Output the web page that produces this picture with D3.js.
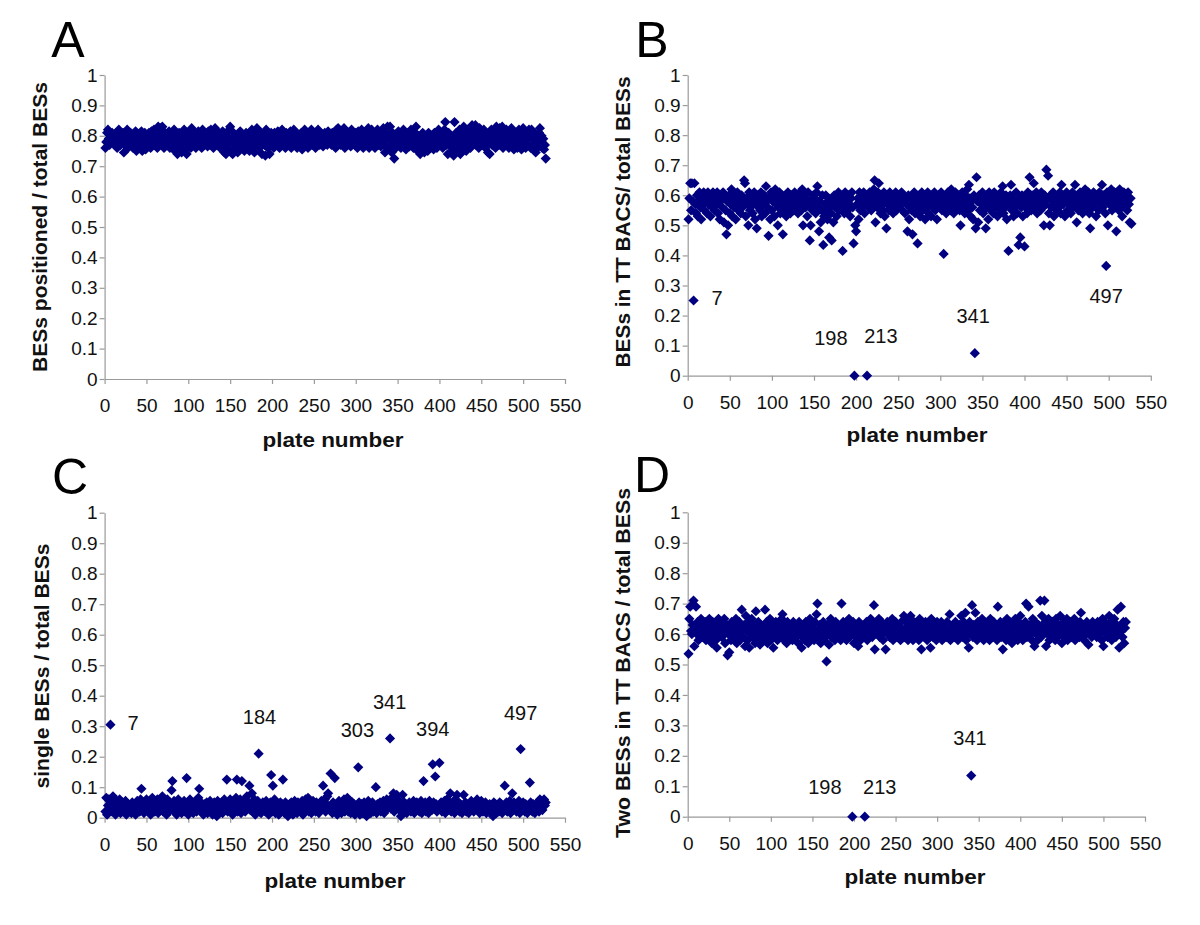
<!DOCTYPE html>
<html><head><meta charset="utf-8">
<script src="https://cdn.jsdelivr.net/npm/d3@7"></script>
<style>
body{margin:0;background:#fff}
svg{display:block}
text{font-family:"Liberation Sans",Arial,sans-serif}
</style>
</head><body>
<svg id="chart" width="1200" height="925"></svg>
<script>
// ---------- data ----------
const xTicks = [0,50,100,150,200,250,300,350,400,450,500,550];
const xTickLabels = ["0","50","100","150","200","250","300","350","400","450","500","550"];
const yTicks = [0,0.1,0.2,0.3,0.4,0.5,0.6,0.7,0.8,0.9,1];
const yTickLabels = ["0","0.1","0.2","0.3","0.4","0.5","0.6","0.7","0.8","0.9","1"];
const panelLetters = ["A","B","C","D"];
const yTitles = ["BESs positioned / total BESs","BESs in TT BACS/ total BESs","single BESs / total BESs","Two BESs in TT BACS / total BESs"];
const xTitle = "plate number";
const firstPlate = 1;

// A: BESs positioned / total BESs, plates 1..527
const ratioPositioned = [
.76,.78,.81,.82,.79,.77,.80,.78,.81,.79,
.80,.77,.79,.81,.76,.78,.82,.80,.77,.79,
.78,.81,.745,.77,.80,.79,.82,.76,.78,.80,
.81,.77,.79,.76,.80,.78,.815,.75,.79,.77,
.80,.76,.78,.815,.75,.79,.77,.81,.755,.78,
.80,.77,.81,.79,.76,.815,.78,.80,.82,.77,
.79,.81,.76,.83,.80,.78,.825,.77,.83,.79,
.76,.81,.78,.80,.77,.79,.815,.76,.78,.80,
.77,.79,.82,.75,.78,.80,.74,.77,.81,.79,
.76,.745,.80,.78,.82,.75,.79,.74,.77,.81,
.78,.80,.76,.825,.79,.77,.81,.78,.76,.80,
.79,.815,.77,.80,.78,.76,.82,.79,.77,.81,
.78,.80,.765,.815,.79,.77,.82,.78,.80,.76,
.79,.825,.78,.80,.77,.81,.79,.76,.80,.78,
.815,.77,.745,.79,.74,.80,.76,.78,.82,.83,
.745,.79,.74,.81,.77,.80,.76,.78,.745,.80,
.78,.815,.76,.79,.77,.80,.75,.78,.81,.76,
.79,.77,.75,.80,.78,.82,.76,.79,.745,.81,
.78,.825,.77,.80,.76,.79,.81,.74,.78,.80,
.77,.735,.82,.79,.76,.80,.74,.78,.81,.77,
.79,.76,.81,.78,.80,.77,.815,.79,.76,.80,
.78,.82,.77,.80,.79,.76,.81,.78,.80,.77,
.79,.815,.76,.80,.78,.82,.77,.79,.81,.76,
.80,.78,.79,.77,.81,.755,.80,.78,.82,.79,
.77,.80,.76,.81,.79,.78,.82,.77,.80,.79,
.81,.76,.80,.78,.82,.79,.77,.81,.78,.80,
.765,.79,.81,.78,.80,.77,.815,.79,.78,.80,
.77,.81,.79,.78,.80,.76,.82,.79,.825,.78,
.80,.77,.81,.79,.78,.825,.76,.80,.79,.77,
.81,.78,.80,.765,.82,.79,.78,.80,.77,.81,
.79,.76,.815,.78,.80,.77,.82,.79,.76,.80,
.78,.81,.77,.79,.825,.76,.80,.78,.82,.77,
.79,.81,.76,.80,.78,.82,.77,.79,.81,.765,
.80,.78,.825,.77,.745,.81,.79,.83,.76,.80,
.83,.78,.745,.81,.77,.725,.79,.76,.80,.78,
.815,.77,.79,.76,.80,.78,.82,.77,.79,.755,
.81,.78,.80,.765,.79,.82,.77,.80,.76,.79,
.81,.83,.78,.75,.80,.77,.74,.79,.76,.81,
.78,.745,.80,.77,.79,.75,.81,.78,.76,.80,
.77,.79,.755,.81,.78,.80,.76,.79,.82,.77,
.80,.78,.81,.76,.79,.82,.845,.77,.80,.74,
.81,.78,.745,.80,.76,.79,.735,.845,.78,.81,
.75,.80,.77,.82,.74,.79,.81,.76,.83,.78,
.80,.75,.82,.77,.79,.81,.76,.80,.835,.78,
.82,.79,.835,.77,.81,.80,.76,.825,.79,.78,
.81,.77,.82,.79,.76,.80,.78,.745,.81,.74,
.79,.82,.77,.80,.78,.81,.76,.83,.79,.80,
.77,.825,.80,.78,.83,.76,.81,.79,.77,.82,
.80,.78,.76,.81,.79,.825,.77,.80,.755,.79,
.81,.78,.76,.80,.82,.77,.79,.755,.81,.825,
.78,.80,.76,.81,.79,.77,.82,.80,.76,.82,
.79,.77,.81,.78,.745,.80,.76,.79,.81,.825,
.78,.80,.76,.79,.755,.77,.725
];

// B: BESs in TT BACs / total BESs
const ratioTT = [
.52,.59,.64,.55,.64,.58,.25,.64,.57,.54,
.60,.53,.58,.61,.56,.52,.59,.57,.61,.55,
.58,.60,.54,.61,.57,.59,.53,.60,.56,.61,
.58,.55,.60,.57,.61,.54,.59,.52,.58,.60,
.56,.61,.51,.59,.55,.47,.58,.50,.60,.54,
.57,.62,.53,.59,.56,.60,.52,.58,.61,.55,
.59,.57,.54,.60,.56,.58,.65,.64,.53,.59,
.57,.50,.61,.55,.58,.60,.54,.57,.61,.52,
.59,.49,.60,.56,.58,.55,.61,.53,.59,.57,
.60,.54,.63,.58,.56,.465,.59,.52,.61,.55,
.58,.60,.53,.62,.57,.59,.50,.56,.61,.54,
.58,.60,.47,.57,.55,.60,.53,.59,.61,.56,
.58,.54,.60,.57,.59,.55,.61,.56,.58,.60,
.54,.59,.57,.61,.55,.62,.50,.58,.60,.56,
.59,.53,.61,.57,.45,.50,.58,.55,.60,.57,
.59,.54,.61,.63,.56,.48,.58,.51,.55,.60,
.435,.53,.57,.60,.55,.52,.59,.46,.56,.54,
.45,.58,.51,.60,.56,.59,.53,.57,.61,.55,
.58,.60,.56,.415,.59,.54,.61,.57,.59,.55,
.60,.57,.53,.59,.61,.56,.44,0,.50,.48,
.57,.59,.52,.61,.55,.60,.58,.56,.61,.54,
.59,.57,0,.60,.56,.61,.58,.55,.60,.57,
.62,.65,.51,.59,.56,.61,.64,.58,.54,.60,
.57,.55,.61,.53,.59,.49,.57,.60,.55,.61,
.58,.56,.60,.54,.59,.57,.61,.55,.58,.60,
.56,.59,.57,.61,.55,.60,.58,.54,.59,.57,
.48,.60,.52,.56,.59,.55,.47,.58,.61,.54,
.57,.60,.44,.56,.59,.53,.58,.61,.55,.57,
.60,.52,.58,.56,.61,.54,.59,.57,.53,.60,
.56,.58,.61,.55,.59,.52,.57,.60,.56,.58,
.61,.55,.59,.405,.57,.60,.54,.58,.61,.56,
.59,.55,.62,.57,.60,.54,.58,.61,.56,.59,
.57,.60,.55,.50,.58,.61,.56,.59,.54,.60,
.57,.62,.55,.635,.59,.53,.58,.56,.52,.60,
.075,.49,.66,.58,.51,.60,.55,.59,.57,.61,
.54,.58,.60,.49,.56,.59,.52,.61,.57,.55,
.60,.58,.54,.61,.56,.59,.57,.53,.60,.58,
.55,.61,.57,.63,.54,.59,.56,.60,.52,.58,
.415,.57,.60,.635,.55,.59,.53,.58,.56,.61,
.54,.57,.435,.59,.46,.56,.60,.53,.58,.43,
.56,.60,.54,.61,.57,.66,.59,.55,.60,.57,
.64,.58,.56,.61,.54,.60,.57,.59,.55,.61,
.58,.56,.50,.60,.57,.685,.59,.665,.54,.50,
.60,.56,.58,.61,.53,.59,.57,.55,.60,.58,
.56,.61,.54,.635,.59,.57,.60,.53,.58,.61,
.55,.59,.57,.60,.54,.58,.61,.56,.59,.635,
.57,.51,.60,.55,.58,.61,.56,.59,.54,.60,
.58,.62,.55,.59,.57,.61,.54,.49,.60,.58,
.56,.61,.57,.59,.53,.60,.58,.55,.61,.57,
.59,.635,.56,.60,.58,.54,.365,.61,.50,.59,
.57,.60,.62,.55,.59,.57,.61,.56,.48,.60,
.58,.55,.62,.57,.60,.53,.59,.61,.56,.58,
.60,.55,.61,.57,.51,.59,.505
];

// C: single BESs / total BESs
const ratioSingle = [
.02,.065,.01,.04,.06,.03,.305,.05,.02,.07,
.03,.045,.01,.055,.03,.02,.04,.06,.015,.035,
.05,.02,.04,.03,.055,.01,.035,.045,.02,.03,
.04,.015,.05,.03,.02,.045,.01,.035,.055,.025,
.04,.02,.06,.095,.03,.05,.015,.04,.025,.06,
.03,.045,.02,.055,.01,.04,.065,.03,.05,.02,
.045,.03,.06,.015,.04,.055,.025,.035,.07,.02,
.05,.03,.045,.01,.06,.035,.02,.05,.04,.09,
.12,.03,.055,.02,.045,.01,.04,.06,.025,.035,
.05,.015,.04,.03,.055,.02,.045,.13,.03,.01,
.04,.06,.025,.035,.05,.015,.045,.03,.055,.02,
.04,.065,.095,.03,.05,.02,.035,.01,.045,.03,
.025,.05,.015,.04,.03,.055,.02,.045,.01,.035,
.05,.025,.04,.005,.055,.03,.02,.045,.035,.05,
.015,.04,.06,.03,.045,.125,.02,.05,.035,.06,
.025,.045,.01,.055,.03,.04,.065,.125,.02,.05,
.035,.06,.015,.12,.045,.03,.055,.02,.04,.07,
.03,.05,.105,.025,.045,.08,.02,.035,.06,.01,
.04,.03,.055,.21,.02,.045,.015,.035,.05,.025,
.04,.02,.055,.03,.045,.01,.035,.05,.14,.02,
.105,.03,.06,.015,.045,.025,.04,.01,.035,.05,
.02,.045,.125,.03,.015,.05,.025,.04,.005,.035,
.045,.02,.05,.03,.01,.04,.055,.025,.035,.015,
.05,.03,.045,.02,.04,.055,.01,.035,.025,.06,
.03,.045,.065,.02,.05,.035,.015,.04,.055,.025,
.04,.02,.05,.03,.045,.015,.035,.025,.055,.04,
.105,.03,.06,.02,.045,.07,.08,.035,.025,.145,
.04,.015,.05,.03,.13,.02,.045,.01,.035,.055,
.025,.04,.015,.05,.03,.06,.02,.045,.035,.065,
.02,.04,.055,.015,.035,.05,.025,.045,.01,.03,
.04,.02,.165,.05,.01,.035,.045,.015,.03,.05,
.02,.04,.005,.035,.055,.025,.045,.015,.03,.05,
.02,.04,.03,.10,.015,.045,.025,.035,.05,.02,
.04,.03,.055,.015,.045,.025,.06,.035,.05,.04,
.26,.03,.065,.045,.08,.02,.05,.035,.075,.06,
.04,.025,.045,.005,.035,.075,.02,.05,.03,.045,
.015,.04,.025,.05,.035,.02,.045,.03,.055,.015,
.04,.025,.05,.03,.045,.02,.035,.055,.015,.04,
.12,.03,.05,.02,.045,.035,.015,.055,.03,.04,
.025,.175,.05,.03,.135,.045,.02,.04,.035,.18,
.03,.05,.02,.045,.035,.055,.015,.04,.06,.025,
.05,.035,.08,.02,.045,.03,.055,.015,.04,.025,
.075,.03,.05,.02,.045,.035,.015,.04,.075,.03,
.05,.02,.045,.035,.015,.04,.025,.055,.03,.045,
.02,.04,.035,.05,.06,.025,.045,.015,.03,.055,
.035,.02,.045,.03,.05,.015,.04,.025,.035,.045,
.02,.04,.03,.005,.05,.025,.045,.015,.035,.04,
.02,.05,.03,.045,.015,.04,.025,.105,.035,.05,
.02,.045,.03,.055,.015,.04,.08,.025,.05,.035,
.045,.02,.04,.03,.055,.015,.225,.04,.025,.05,
.035,.02,.045,.03,.015,.04,.025,.115,.05,.03,
.02,.045,.035,.015,.04,.025,.05,.03,.02,.06,
.035,.055,.025,.045,.06,.04,.05
];

// D: Two BESs in TT BACs / total BESs
const ratioTwo = [
.535,.65,.69,.61,.60,.63,.71,.56,.62,.69,
.60,.64,.58,.62,.61,.65,.59,.63,.60,.62,
.64,.58,.61,.63,.60,.65,.59,.62,.57,.64,
.61,.60,.63,.58,.555,.62,.65,.60,.61,.64,
.59,.62,.60,.65,.57,.61,.63,.53,.60,.54,
.62,.58,.64,.61,.59,.63,.60,.65,.57,.62,
.60,.64,.58,.61,.68,.62,.59,.63,.56,.66,
.61,.58,.64,.555,.62,.60,.65,.59,.63,.61,
.57,.675,.62,.59,.64,.60,.565,.63,.61,.58,
.62,.60,.68,.59,.64,.57,.62,.61,.65,.58,
.60,.63,.555,.62,.59,.64,.61,.58,.63,.60,
.62,.59,.65,.665,.60,.58,.63,.61,.57,.64,
.60,.62,.59,.63,.61,.58,.64,.60,.62,.59,
.63,.61,.57,.64,.60,.62,.555,.59,.63,.61,
.58,.64,.60,.62,.57,.61,.65,.59,.63,.60,
.62,.58,.64,.60,.665,.70,.61,.59,.63,.57,
.62,.60,.64,.58,.61,.59,.51,.63,.60,.565,
.62,.65,.59,.61,.63,.60,.58,.64,.61,.59,
.63,.60,.62,.58,.70,.61,.64,.59,.62,.60,
.58,.63,.61,.65,.59,.62,.60,0,.64,.57,
.61,.63,.59,.62,.56,.64,.60,.58,.63,.61,
.59,.62,0,.60,.64,.58,.61,.63,.60,.65,
.62,.59,.64,.695,.55,.61,.63,.60,.62,.65,
.59,.61,.64,.60,.58,.62,.63,.55,.61,.64,
.60,.62,.59,.63,.61,.65,.58,.62,.60,.64,
.61,.59,.63,.60,.62,.58,.64,.61,.60,.66,
.59,.62,.60,.64,.58,.61,.63,.66,.60,.62,
.58,.64,.61,.59,.63,.60,.62,.58,.65,.61,
.55,.63,.60,.62,.59,.64,.61,.58,.63,.60,
.62,.555,.65,.61,.59,.63,.60,.62,.58,.64,
.61,.59,.62,.60,.64,.58,.61,.63,.60,.62,
.59,.64,.61,.60,.665,.58,.62,.60,.63,.61,
.59,.64,.60,.62,.58,.61,.63,.60,.66,.62,
.59,.64,.61,.67,.58,.62,.60,.555,.64,.61,
.135,.695,.59,.63,.61,.67,.60,.58,.64,.62,
.60,.63,.59,.65,.61,.58,.64,.60,.62,.59,
.63,.61,.58,.65,.60,.62,.59,.64,.61,.60,
.63,.58,.69,.62,.60,.64,.59,.61,.55,.63,
.60,.62,.58,.65,.61,.59,.64,.60,.62,.57,
.61,.63,.59,.65,.60,.62,.58,.64,.61,.66,
.60,.63,.58,.62,.61,.64,.70,.59,.62,.69,
.61,.63,.60,.58,.65,.62,.56,.64,.60,.61,
.58,.63,.61,.71,.59,.66,.62,.60,.71,.64,
.56,.62,.60,.65,.58,.63,.61,.59,.64,.60,
.62,.58,.65,.61,.59,.63,.60,.66,.62,.57,
.61,.64,.59,.62,.60,.65,.58,.63,.61,.60,
.64,.59,.62,.60,.65,.58,.61,.63,.60,.62,
.59,.64,.67,.61,.60,.63,.58,.62,.60,.64,
.61,.565,.63,.60,.62,.59,.64,.61,.63,.60,
.62,.59,.64,.61,.60,.63,.62,.58,.65,.56,
.61,.64,.60,.63,.59,.62,.66,.60,.64,.58,
.62,.60,.65,.61,.59,.63,.68,.60,.555,.62,
.69,.61,.59,.64,.57,.62,.64
];

// ---------- layout ----------
const series = [ratioPositioned, ratioTT, ratioSingle, ratioTwo];
const layout = [
  {x0:104.6, x1:565,   yTop:75,    yBot:379,   titleX:40,  titleY:227, titleLen:290, letterX:68,  letterY:57,  xTitleX:333, xTitleY:447, notes:[]},
  {x0:687.7, x1:1150.8,yTop:75,    yBot:375.7, titleX:623, titleY:222, titleLen:291, letterX:652, letterY:57,  xTitleX:917, xTitleY:442,
    notes:[{t:"7",x:35,y:0.257},{t:"198",x:170,y:0.125},{t:"213",x:229.5,y:0.131},{t:"341",x:339,y:0.197},{t:"497",x:497,y:0.266}]},
  {x0:104.6, x1:565,   yTop:512.7, yBot:817.7, titleX:42,  titleY:666, titleLen:245, letterX:70,  letterY:494, xTitleX:335, xTitleY:888,
    notes:[{t:"7",x:34,y:0.31},{t:"184",x:185,y:0.33},{t:"341",x:340.5,y:0.38},{t:"303",x:302,y:0.288},{t:"394",x:392,y:0.291},{t:"497",x:497,y:0.343}]},
  {x0:687.7, x1:1145,  yTop:512.3, yBot:816.7, titleX:623, titleY:663, titleLen:350, letterX:652, letterY:492, xTitleX:915, xTitleY:884,
    notes:[{t:"341",x:339.5,y:0.259},{t:"198",x:165,y:0.098},{t:"213",x:231,y:0.098}]}
];

const svg = d3.select("#chart");
svg.append("rect").attr("width",1200).attr("height",925).attr("fill","#fff");
const diamond = d3.symbol().type(d3.symbolSquare).size(52)();

layout.forEach((L, i) => {
  const x = d3.scaleLinear().domain([0,550]).range([L.x0, L.x1]);
  const y = d3.scaleLinear().domain([0,1]).range([L.yBot, L.yTop]);
  const g = svg.append("g");

  const ya = g.append("g").attr("transform",`translate(${L.x0},0)`)
    .call(d3.axisLeft(y).tickValues(yTicks).tickFormat((d,k)=>yTickLabels[k]).tickSize(5).tickSizeOuter(0).tickPadding(2));
  const xa = g.append("g").attr("transform",`translate(0,${L.yBot})`)
    .call(d3.axisBottom(x).tickValues(xTicks).tickFormat((d,k)=>xTickLabels[k]).tickSize(5).tickSizeOuter(0));
  [ya,xa].forEach(a=>{
    a.select(".domain").attr("stroke","#9a9a9a").attr("stroke-width",1.2);
    a.selectAll(".tick line").attr("stroke","#9a9a9a").attr("stroke-width",1.2);
    a.selectAll(".tick text").attr("fill","#111").style("font-size","19px").style("font-family","'Liberation Sans',Arial,sans-serif");
  });
  xa.selectAll(".tick text").attr("y",26.5).attr("dy","0.35em");

  g.append("g").selectAll("path").data(series[i]).join("path")
    .attr("d", diamond)
    .attr("transform",(d,k)=>`translate(${x(k+firstPlate)},${y(d)}) rotate(45)`)
    .attr("fill","#000080");

  g.append("g").selectAll("text").data(L.notes).join("text")
    .attr("x",d=>x(d.x)).attr("y",d=>y(d.y)).attr("dy","0.35em")
    .attr("text-anchor","middle").style("font-size","20px").attr("fill","#111")
    .text(d=>d.t);

  g.append("text")
    .attr("transform",`translate(${L.titleX},${L.titleY}) rotate(-90)`)
    .attr("text-anchor","middle").attr("dy","0.35em")
    .attr("textLength",L.titleLen).attr("lengthAdjust","spacingAndGlyphs")
    .style("font-size","20px").style("font-weight","bold").attr("fill","#111")
    .text(yTitles[i]);

  g.append("text")
    .attr("x",L.xTitleX).attr("y",L.xTitleY).attr("text-anchor","middle")
    .attr("textLength",141).attr("lengthAdjust","spacingAndGlyphs")
    .style("font-size","20px").style("font-weight","bold").attr("fill","#111")
    .text(xTitle);

  g.append("text").attr("x",L.letterX).attr("y",L.letterY).attr("text-anchor","middle")
    .style("font-size","50px").attr("fill","#000").text(panelLetters[i]);
});
</script>
</body></html>
